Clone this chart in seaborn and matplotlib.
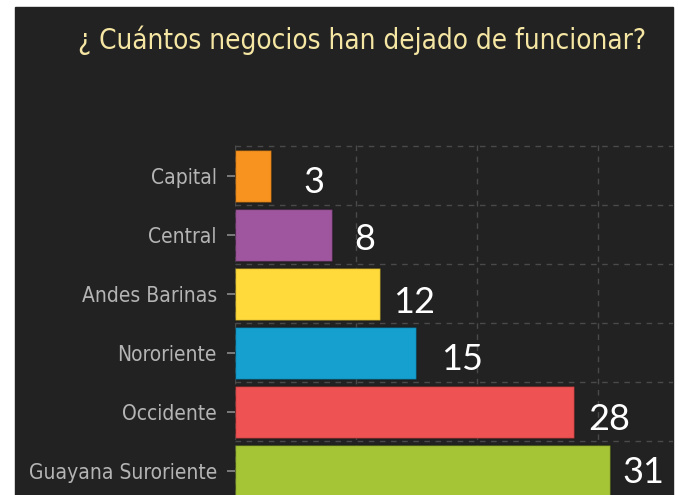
import matplotlib
matplotlib.use("Agg")
import matplotlib.pyplot as plt
import seaborn as sns
from matplotlib.patches import Rectangle

# data
regiones = ["Capital", "Central", "Andes Barinas", "Nororiente", "Occidente", "Guayana Suroriente"]
negocios = [3, 8, 12, 15, 28, 31]
colores = ["#F7931E", "#A0569E", "#FFDA3A", "#15A0CF", "#EE5253", "#A6C536"]

# desplazamiento de etiquetas (pixeles) tal como en la imagen
desp_x = [32, 22, 13, 25, 14, 12]
desp_y = [-7, -5, -9, -7, -8, -2]

sns.set_style("dark", {"ytick.left": True, "ytick.color": "#8a8a8a"})
fondo = "#222222"

fig = plt.figure(figsize=(6.79, 4.95), dpi=100, facecolor="white")
fig.patches.append(Rectangle((15 / 679, 0), 658 / 679, 488 / 495,
                             transform=fig.transFigure, color=fondo, zorder=-5))

ax = fig.add_axes([235 / 679, 0, 438 / 679, 350 / 495])
ax.set_facecolor(fondo)

sns.barplot(x=negocios, y=regiones, hue=regiones, palette=colores, legend=False,
            width=0.88, orient="h", ax=ax, saturation=1,
            edgecolor="#00000040", linewidth=1, zorder=3)

ax.set_xlim(0, 36.2)
ax.set_ylim(5.41, -0.525)

# grid
ax.set_xticks([0, 10, 20, 30])
ax.set_yticks([i - 0.5 for i in range(len(regiones))], minor=True)
ax.grid(True, which="minor", axis="y", color="#4a4a4a", linestyle=(0, (4, 4)), linewidth=1)
ax.grid(True, which="major", axis="x", color="#4a4a4a", linestyle=(0, (4, 4)), linewidth=1)
ax.grid(False, which="major", axis="y")
ax.tick_params(axis="y", which="minor", length=0, left=False)
ax.tick_params(axis="x", which="both", length=0, labelbottom=False)
ax.tick_params(axis="y", which="major", left=True, length=6, width=1.2, color="#8a8a8a", pad=7,
               labelsize=15, labelcolor="#b4b4b4")
for lab in ax.get_yticklabels():
    lab.set_family("DejaVu Sans")
    lab.set_stretch("condensed")
for s in ax.spines.values():
    s.set_visible(False)
ax.set_xlabel("")
ax.set_ylabel("")

# etiquetas de valores
for i, v in enumerate(negocios):
    ax.annotate(str(v), xy=(v, i), xytext=(desp_x[i] * 0.72, desp_y[i] * 0.72),
                textcoords="offset points", ha="left", va="center",
                color="white", fontsize=26, family=["Lato", "DejaVu Sans"], zorder=5)

fig.text(78 / 679, 1 - 40 / 495, "¿ Cuántos negocios han dejado de funcionar?",
         ha="left", va="center", color="#F5E6A3", fontsize=20,
         family="DejaVu Sans", stretch="condensed")

fig.savefig("out.png", dpi=100, facecolor="white")
